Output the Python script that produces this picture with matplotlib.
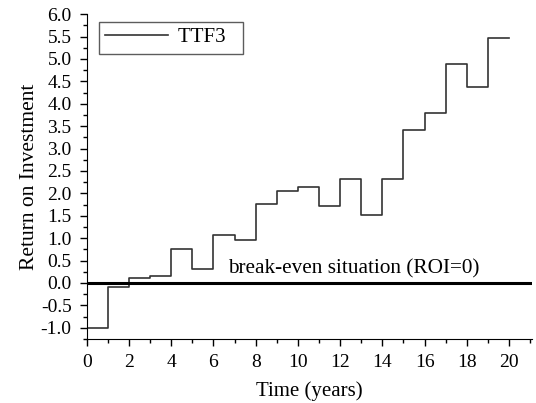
import matplotlib.pyplot as plt
from matplotlib.ticker import MultipleLocator

plt.rcParams['font.family'] = 'Liberation Serif'
plt.rcParams['axes.unicode_minus'] = False

# yearly return on investment, one value per year interval
years = list(range(0, 21))
roi = [-1.0, -0.09, 0.11, 0.15, 0.75, 0.31, 1.07, 0.95, 1.77, 2.05,
       2.13, 1.72, 2.33, 1.52, 2.32, 3.42, 3.79, 4.88, 4.37, 5.47]
# repeat the last level so the final step runs to year 20
roi_steps = roi + [roi[-1]]

fig = plt.figure(figsize=(5.36, 4.03), dpi=100)
ax = fig.add_axes([0.162, 0.159, 0.831, 0.806])

ax.step(years, roi_steps, where='post', color='#333333', lw=1.2, label='TTF3  ')
ax.axhline(0, color='black', lw=2.2)
ax.text(6.7, 0.1, 'break-even situation (ROI=0)', fontsize=15.3, va='bottom', ha='left')

ax.set_xlim(0, 21.1)
ax.set_ylim(-1.25, 6.0)
ax.xaxis.set_major_locator(MultipleLocator(2))
ax.xaxis.set_minor_locator(MultipleLocator(1))
ax.yaxis.set_major_locator(MultipleLocator(0.5))
ax.yaxis.set_minor_locator(MultipleLocator(0.25))
ax.tick_params(which='major', length=5, width=1, labelsize=14, direction='out', pad=6)
ax.tick_params(which='minor', length=3, width=1, direction='out')

for side in ['top', 'right']:
    ax.spines[side].set_visible(False)

ax.set_xlabel('Time (years)', fontsize=15, labelpad=7)
ax.set_ylabel('Return on Investment', fontsize=15.5, labelpad=1)

ax.legend(loc='upper left', bbox_to_anchor=(0.018, 0.99), fontsize=15, frameon=True,
          fancybox=False, edgecolor='#333333', handlelength=3.0, handletextpad=0.5,
          borderpad=0.3, borderaxespad=0.2)

fig.savefig('out.png', dpi=100)
